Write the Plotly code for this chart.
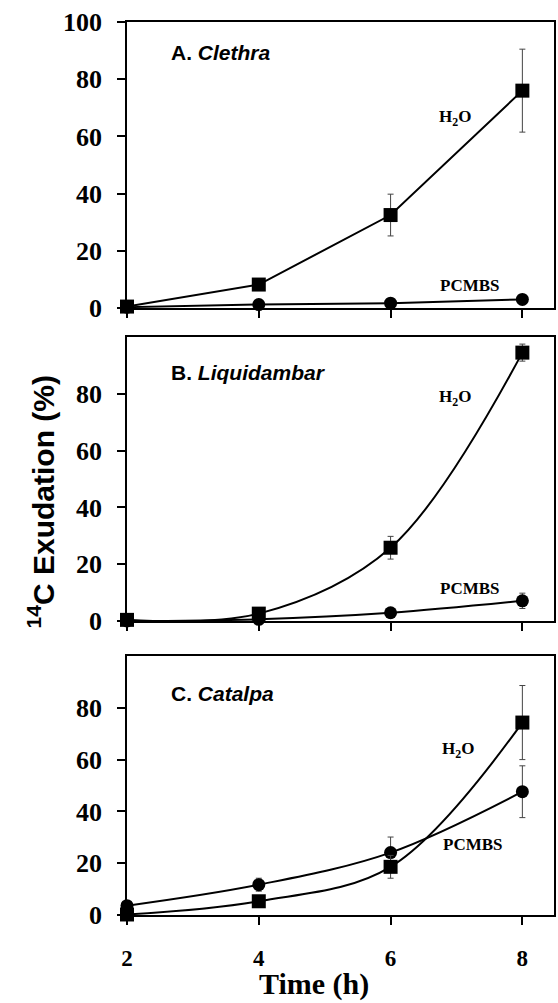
import plotly.graph_objects as go

time = [2, 4, 6, 8]

a_h2o = [0.5, 8.2, 32.5, 76.0]
a_h2o_err = [0.0, 0.8, 7.3, 14.5]
a_pcmbs = [0.3, 1.2, 1.7, 3.0]
a_pcmbs_err = [0.0, 0.3, 0.4, 0.6]

b_h2o = [0.4, 2.6, 25.8, 94.5]
b_h2o_err = [0.0, 0.5, 4.0, 3.0]
b_pcmbs = [0.0, 0.6, 2.9, 7.1]
b_pcmbs_err = [0.0, 0.3, 0.5, 2.7]

c_h2o = [0.2, 5.3, 18.6, 74.3]
c_h2o_err = [0.0, 0.6, 4.4, 14.3]
c_pcmbs = [3.6, 11.7, 24.1, 47.6]
c_pcmbs_err = [1.0, 2.5, 6.0, 10.0]

panels = [
    ("A. ", "Clethra", a_h2o, a_h2o_err, a_pcmbs, a_pcmbs_err, "linear",
     (6.98, 66.4), (7.21, 7.7), 89.5),
    ("B. ", "Liquidambar", b_h2o, b_h2o_err, b_pcmbs, b_pcmbs_err, "spline",
     (6.98, 78.6), (7.21, 11.6), 87.4),
    ("C. ", "Catalpa", c_h2o, c_h2o_err, c_pcmbs, c_pcmbs_err, "spline",
     (7.03, 63.7), (7.25, 27.4), 85.7),
]

W, H = 558, 1003
ML, MR, MT, MB = 127, 2, 22, 88
PH = H - MT - MB
bottom_px = H - MB

def py(p):
    return (bottom_px - p) / PH

domains = [
    [py(308), 1.0],
    [py(621), py(337)],
    [0.0, py(656)],
]

fig = go.Figure()
serif = "Liberation Serif"
sans = "Liberation Sans"
err_style = dict(type="data", thickness=1, width=3, color="#444444")

for i, (pre, genus, h2o, h2o_e, pc, pc_e, shape, h2o_lab, pc_lab, lab_y) in enumerate(panels):
    n = "" if i == 0 else str(i + 1)
    xa, ya = "x" + n, "y" + n
    fig.add_trace(go.Scatter(
        x=time, y=pc, xaxis=xa, yaxis=ya, mode="lines+markers",
        line=dict(color="black", width=2, shape=shape, smoothing=1.0),
        marker=dict(symbol="circle", size=13, color="black"),
        error_y=dict(array=pc_e, **err_style), cliponaxis=False, showlegend=False))
    fig.add_trace(go.Scatter(
        x=time, y=h2o, xaxis=xa, yaxis=ya, mode="lines+markers",
        line=dict(color="black", width=2, shape=shape, smoothing=1.0),
        marker=dict(symbol="square", size=14, color="black"),
        error_y=dict(array=h2o_e, **err_style), cliponaxis=False, showlegend=False))

    axkw = dict(showline=True, linecolor="black", linewidth=1.5, mirror=True,
                ticks="outside", ticklen=8, tickwidth=1.5, tickcolor="black",
                showgrid=False, zeroline=False)
    fig.layout["xaxis" + n] = dict(
        domain=[0, 1], range=[2, 8.48], anchor=ya, tickvals=time,
        showticklabels=(i == 2), ticklabelstandoff=14,
        tickfont=dict(family=serif, size=23, color="black", weight="bold"), **axkw)
    fig.layout["yaxis" + n] = dict(
        domain=domains[i], range=[0, 100], anchor=xa,
        tickvals=[0, 20, 40, 60, 80, 100] if i == 0 else [0, 20, 40, 60, 80],
        ticklabelstandoff=10,
        tickfont=dict(family=serif, size=26, color="black", weight="bold"), **axkw)

    fig.add_annotation(x=2.63, y=lab_y, xref=xa, yref=ya, xanchor="left", yanchor="middle",
                       text="<b>" + pre + "<i>" + genus + "</i></b>", showarrow=False,
                       font=dict(family=sans, size=21, color="black"))
    fig.add_annotation(x=h2o_lab[0], y=h2o_lab[1], xref=xa, yref=ya,
                       text="<b>H<sub>2</sub>O</b>", showarrow=False,
                       font=dict(family=serif, size=17, color="black"))
    fig.add_annotation(x=pc_lab[0], y=pc_lab[1], xref=xa, yref=ya,
                       text="<b>PCMBS</b>", showarrow=False,
                       font=dict(family=serif, size=17, color="black"))

fig.add_annotation(x=(41 - ML) / (W - ML - MR), y=py(502), xref="paper", yref="paper",
                   text="<b><sup>14</sup>C Exudation (%)</b>", textangle=-90,
                   showarrow=False, xanchor="center", yanchor="middle",
                   font=dict(family=sans, size=30, color="black"))
fig.add_annotation(x=(315 - ML) / (W - ML - MR), y=py(984), xref="paper", yref="paper",
                   text="<b>Time (h)</b>", showarrow=False,
                   xanchor="center", yanchor="middle",
                   font=dict(family=serif, size=30, color="black"))

fig.update_layout(width=W, height=H, margin=dict(l=ML, r=MR, t=MT, b=MB),
                  paper_bgcolor="white", plot_bgcolor="white")

fig.write_html("out.html")
